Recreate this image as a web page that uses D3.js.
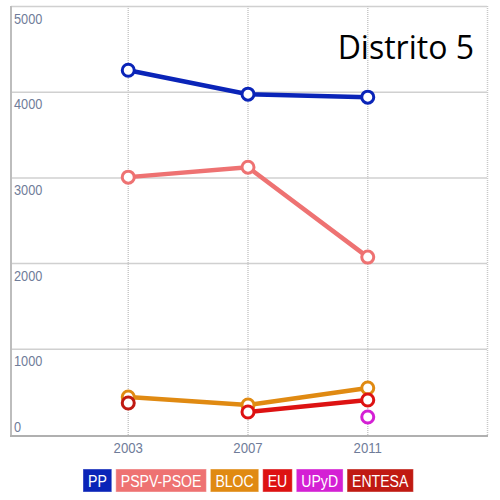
<!DOCTYPE html>
<html><head><meta charset="utf-8">
<script src="https://cdn.jsdelivr.net/npm/d3@7"></script>
<style>body{margin:0;background:#fff}svg{display:block}</style>
</head><body><svg id="c" width="500" height="500"></svg>
<script>
const years = [2003, 2007, 2011];
const yTicks = [0, 1000, 2000, 3000, 4000, 5000];
const parties = ["PP", "PSPV-PSOE", "BLOC", "EU", "UPyD", "ENTESA"];
const colors = ["#0a24b8", "#ee7272", "#e08a12", "#dd1212", "#d420d4", "#c01a12"];
const ppVals = [4256, 3977, 3942];
const psoeVals = [3009, 3125, 2076];
const blocVals = [443, 350, 548];
const euVals = [null, 268, 408];
const upydVals = [null, null, 210];
const entesaVals = [373, null, null];
const seriesVals = [ppVals, psoeVals, blocVals, euVals, upydVals, entesaVals];
const title = "Distrito 5";

const svg = d3.select("#c");
const x = d3.scaleLinear().domain([1999, 2015]).range([8.5, 487.5]);
const y = d3.scaleLinear().domain([0, 5000]).range([435, 6.5]);
const font = "'Liberation Sans',Arial,sans-serif";
function condense(sel, k) {
  sel.each(function() {
    const w = this.getComputedTextLength();
    d3.select(this).attr("textLength", w * k).attr("lengthAdjust", "spacingAndGlyphs");
  });
}

// horizontal gridlines
svg.append("g").selectAll("line").data(yTicks.slice(1)).join("line")
  .attr("x1", 11).attr("x2", 487).attr("y1", d => y(d)).attr("y2", d => y(d))
  .attr("stroke", "#d0d0d0").attr("stroke-width", 1.5);
// vertical dotted gridlines
svg.append("g").selectAll("line").data([...years, 2015]).join("line")
  .attr("x1", d => x(d)).attr("x2", d => x(d)).attr("y1", 6).attr("y2", 436)
  .attr("stroke", "#c8c8c8").attr("stroke-width", 1.5).attr("stroke-dasharray", "1,1");
// axes lines
svg.append("line").attr("x1", 11).attr("x2", 11).attr("y1", 6).attr("y2", 436)
  .attr("stroke", "#bdbdbd").attr("stroke-width", 2);
svg.append("line").attr("x1", 10).attr("x2", 488).attr("y1", 436).attr("y2", 436)
  .attr("stroke", "#b0b0b0").attr("stroke-width", 2);

// y tick labels
svg.append("g").selectAll("text").data(yTicks).join("text")
  .attr("x", 14).attr("y", d => d === 0 ? y(d) - 3 : y(d) + 17)
  .attr("font-family", font).attr("font-size", 15)
  .attr("fill", "#6f7c99").text(d => d).call(condense, 0.85);
// x tick labels
svg.append("g").selectAll("text").data(years).join("text")
  .attr("x", d => x(d)).attr("y", 453).attr("text-anchor", "middle")
  .attr("font-family", font).attr("font-size", 15)
  .attr("fill", "#6f7c99").text(d => d).call(condense, 0.88);

// title
svg.append("text").attr("x", 474).attr("y", 59).attr("text-anchor", "end")
  .attr("font-family", "'Open Sans',sans-serif").attr("font-size", 32)
  .attr("fill", "#000").text(title);

// series
const line = d3.line().defined(d => d.v != null).x(d => x(d.year)).y(d => y(d.v));
const order = [2, 3, 5, 4, 1, 0];
order.forEach(i => {
  const pts = years.map((yr, j) => ({year: yr, v: seriesVals[i][j]}));
  const g = svg.append("g");
  g.append("path").datum(pts).attr("d", line).attr("fill", "none")
    .attr("stroke", colors[i]).attr("stroke-width", 4.5).attr("stroke-linejoin", "round");
  g.selectAll("circle").data(pts.filter(d => d.v != null)).join("circle")
    .attr("cx", d => x(d.year)).attr("cy", d => y(d.v)).attr("r", 6)
    .attr("fill", "#fff").attr("stroke", colors[i]).attr("stroke-width", 3);
});

// legend
const lg = svg.append("g");
let lx = 83;
parties.forEach((p, i) => {
  const t = lg.append("text").attr("y", 487).attr("font-family", font)
    .attr("font-size", 16).attr("fill", "#fff").text(p);
  const w0 = t.node().getComputedTextLength();
  const w = w0 * 0.88;
  t.attr("textLength", w).attr("lengthAdjust", "spacingAndGlyphs");
  lg.insert("rect", "text").attr("x", lx).attr("y", 469).attr("width", w + 10).attr("height", 23)
    .attr("fill", colors[i]).attr("stroke", "#ffffff").attr("stroke-opacity", 0.4);
  t.attr("x", lx + 5);
  lx += w + 10 + 4;
});
</script></body></html>
